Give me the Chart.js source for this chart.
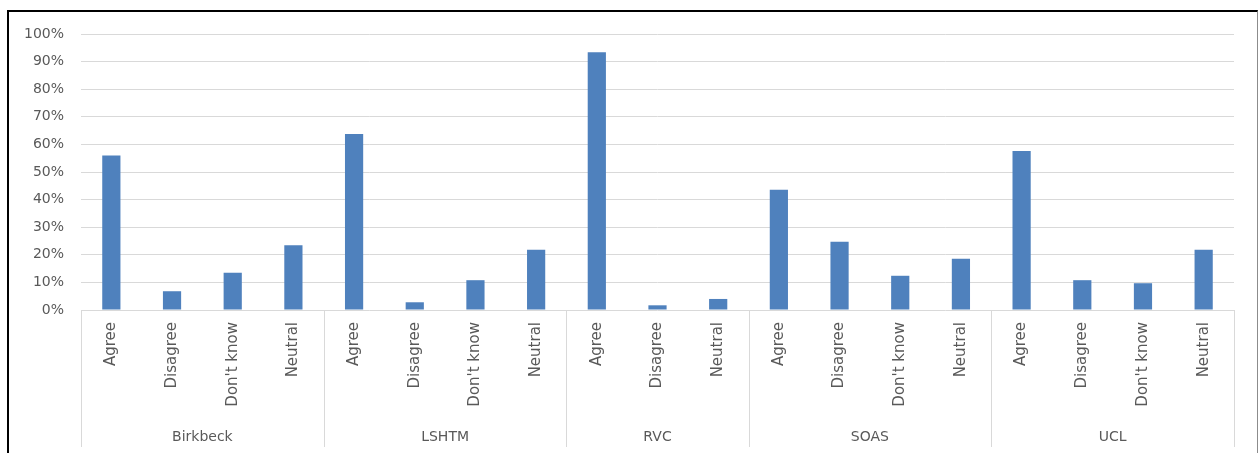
<!DOCTYPE html>
<html>
<head>
<meta charset="utf-8">
<script src="https://cdn.jsdelivr.net/npm/chart.js@4/dist/chart.umd.min.js"></script>
<style>
  html, body { margin: 0; padding: 0; background: #fff; overflow: hidden; }
  #frame {
    position: absolute; left: 7px; top: 10px;
    width: 1248px; height: 460px;
    border-top: 2px solid #000; border-left: 2px solid #000; border-right: 1px solid #8c8c8c;
  }
  #wrap { position: absolute; left: 0; top: 0; width: 1247px; height: 441px; }
</style>
</head>
<body>
<div id="frame"><div id="wrap"><canvas id="grafica"></canvas></div></div>
<script>
// institutions and the answers each one got
const instituciones = ['Birkbeck', 'LSHTM', 'RVC', 'SOAS', 'UCL'];
const respuestas = [
  ['Agree', 'Disagree', "Don't know", 'Neutral'],
  ['Agree', 'Disagree', "Don't know", 'Neutral'],
  ['Agree', 'Disagree', 'Neutral'],
  ['Agree', 'Disagree', "Don't know", 'Neutral'],
  ['Agree', 'Disagree', "Don't know", 'Neutral']
];
// percentage of respondents, same order as respuestas
const porcentajes = [
  [56, 6.8, 13.5, 23.5],
  [63.8, 2.8, 10.8, 21.8],
  [93.4, 1.7, 4],
  [43.6, 24.7, 12.4, 18.6],
  [57.6, 10.8, 9.7, 21.8]
];
const marcasEje = [0, 10, 20, 30, 40, 50, 60, 70, 80, 90, 100];

const etiquetas = respuestas.flat();
const valores = porcentajes.flat();

const fuente = '"DejaVu Sans", sans-serif';
const tamano = 14;
const gris = '#595959';

// second level of the category axis: group names and the dividers between groups
const ejeGrupos = {
  id: 'ejeGrupos',
  afterDraw(chart) {
    const ctx = chart.ctx;
    const x = chart.scales.x;
    const area = chart.chartArea;
    const alto = 137;
    let bordes = [area.left];
    let inicio = 0;
    respuestas.forEach((r, g) => {
      const fin = inicio + r.length - 1;
      const der = fin === etiquetas.length - 1
        ? area.right
        : (x.getPixelForValue(fin) + x.getPixelForValue(fin + 1)) / 2;
      bordes.push(der);
      const izq = bordes[g];
      ctx.save();
      ctx.fillStyle = gris;
      ctx.font = tamano + 'px ' + fuente;
      ctx.textAlign = 'center';
      ctx.textBaseline = 'middle';
      ctx.fillText(instituciones[g], (izq + der) / 2, area.bottom + 127);
      ctx.restore();
      inicio = fin + 1;
    });
    ctx.save();
    ctx.strokeStyle = '#d9d9d9';
    ctx.lineWidth = 1;
    bordes.forEach(b => {
      const bx = Math.round(b) + 0.5;
      ctx.beginPath();
      ctx.moveTo(bx, area.bottom);
      ctx.lineTo(bx, area.bottom + alto);
      ctx.stroke();
    });
    ctx.restore();
  }
};

new Chart(document.getElementById('grafica'), {
  type: 'bar',
  data: {
    labels: etiquetas,
    datasets: [{
      data: valores,
      backgroundColor: '#4f81bd',
      borderWidth: 0,
      barPercentage: 0.3,
      categoryPercentage: 1.0
    }]
  },
  options: {
    responsive: true,
    maintainAspectRatio: false,
    animation: false,
    layout: { padding: { left: 0, right: 22, top: 22, bottom: 0 } },
    plugins: { legend: { display: false }, tooltip: { enabled: false } },
    scales: {
      x: {
        grid: { display: false, drawTicks: false },
        border: { display: false },
        ticks: {
          color: gris,
          font: { family: fuente, size: 15 },
          minRotation: 90,
          maxRotation: 90,
          autoSkip: false,
          padding: 12
        },
        afterFit(s) { s.height = 143; s.paddingLeft = 0; s.paddingRight = 0; }
      },
      y: {
        min: 0,
        max: 100,
        afterBuildTicks(s) { s.ticks = marcasEje.map(v => ({ value: v })); },
        grid: { color: '#d9d9d9', lineWidth: 1, drawTicks: false },
        border: { display: false },
        ticks: {
          color: gris,
          font: { family: fuente, size: tamano },
          padding: 17,
          callback: v => v + '%'
        },
        afterFit(s) { s.width = 72; s.paddingTop = 0; s.paddingBottom = 0; }
      }
    }
  },
  plugins: [ejeGrupos]
});
</script>
</body>
</html>
